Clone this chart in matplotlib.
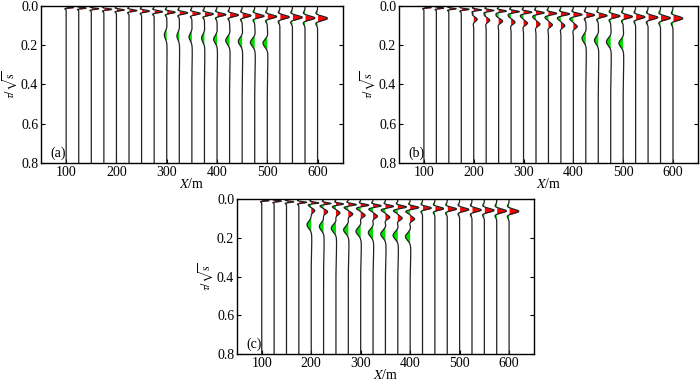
import numpy as np
import matplotlib
matplotlib.use('Agg')
import matplotlib.pyplot as plt

plt.rcParams['font.family'] = ['Liberation Serif', 'DejaVu Serif']
plt.rcParams['mathtext.fontset'] = 'stix'
plt.rcParams['font.size'] = 10

# trace offsets (m)
offsets = [100, 125, 150, 175, 200, 225, 250, 275, 300, 325, 350,
           375, 400, 425, 450, 475, 500, 525, 550, 575, 600]

# direct wave, same in all panels
direct_t = [0.008, 0.011, 0.014, 0.017, 0.020, 0.023, 0.026, 0.029, 0.032, 0.035, 0.038,
            0.041, 0.044, 0.046, 0.049, 0.051, 0.054, 0.056, 0.058, 0.061, 0.063]
direct_amp = [15, 15, 15, 16, 16, 16, 16, 17, 17, 17, 17,
              18, 18, 18, 18, 19, 19, 19, 20, 20, 20]
direct_w = [0.0025, 0.0029, 0.0033, 0.0037, 0.0041, 0.0045, 0.0049, 0.0053, 0.0057, 0.0061, 0.0065,
            0.0069, 0.0073, 0.0077, 0.0081, 0.0085, 0.0089, 0.0093, 0.0097, 0.0101, 0.0105]

# (a) deep green event
a_deep_x = [300, 325, 350, 375, 400, 425, 450, 475, 500]
a_deep_t = [0.148, 0.153, 0.158, 0.164, 0.170, 0.176, 0.181, 0.186, 0.190]
a_deep_amp = [-5, -5, -6, -6, -7, -8, -8, -9, -9]

# (b) shallow green/red event and deep green event
b_sh_x = [200, 225, 250, 275, 300, 325, 350, 375, 400]
b_green_t = [0.044, 0.046, 0.049, 0.052, 0.055, 0.059, 0.062, 0.066, 0.070]
b_red_t = [0.068, 0.073, 0.078, 0.083, 0.088, 0.093, 0.097, 0.101, 0.105]
b_green_amp = [-3, -4, -5, -5, -5, -5, -5, -5, -5]
b_red_amp = [7, 7, 8, 8, 8, 8, 8, 8, 8]
b_deep_x = [425, 450, 475, 500]
b_deep_t = [0.165, 0.175, 0.183, 0.190]
b_deep_amp = [-8, -8, -9, -9]

# (c) shallow green/red event and deep green event
c_sh_x = [200, 225, 250, 275, 300, 325, 350, 375, 400]
c_green_t = [0.036, 0.039, 0.043, 0.047, 0.051, 0.055, 0.059, 0.063, 0.067]
c_red_t = [0.060, 0.066, 0.072, 0.078, 0.084, 0.089, 0.094, 0.099, 0.103]
c_green_amp = [-4, -5, -5, -6, -6, -6, -6, -6, -6]
c_red_amp = [7, 8, 8, 9, 9, 9, 9, 9, 9]
c_deep_t = [0.133, 0.142, 0.151, 0.159, 0.167, 0.174, 0.181, 0.188, 0.194]
c_deep_amp = [-9, -9, -10, -10, -10, -10, -10, -10, -10]

t = np.linspace(0, 0.8, 3000)


def lobe(t0, amp, s):
    return amp * np.exp(-0.5 * ((t - t0) / s) ** 2)


def wavelet(t0, amp, s, pre=0.22, post=0.22, post_w=1.0):
    return (lobe(t0, amp, s) - pre * lobe(t0 - 2.2 * s, amp, 0.9 * s)
            - post * lobe(t0 + (1.3 + post_w) * s, amp, post_w * s))


def panel(ax, label, events):
    for i, x0 in enumerate(offsets):
        tr = wavelet(direct_t[i], direct_amp[i], direct_w[i])
        for ev in events:
            tr = tr + ev(x0)
        xs = x0 + tr
        ax.fill_betweenx(t, x0, xs, where=tr > 1.5, color='#ff0000', lw=0)
        ax.fill_betweenx(t, x0, xs, where=tr < -1.5, color='#00dd00', lw=0)
        ax.plot(xs, t, color='#222222', lw=0.9)
    ax.set_xlim(50, 650)
    ax.set_ylim(0.8, 0)
    ax.set_xticks([100, 200, 300, 400, 500, 600])
    ax.set_yticks([0.0, 0.2, 0.4, 0.6, 0.8])
    ax.set_yticklabels(['0.0', '0.2', '0.4', '0.6', '0.8'])
    ax.tick_params(direction='in', length=3, right=True, pad=2)
    ax.set_xlabel(r'$X$/m', labelpad=-1)
    ax.set_ylabel(r'$\tau/\sqrt{\mathrm{s}}$', fontsize=8.5)
    ax.yaxis.set_label_coords(-0.073, 0.5)
    ax.text(0.03, 0.04, label, transform=ax.transAxes)
    for sp in ax.spines.values():
        sp.set_linewidth(1.0)


def deep(xs, ts, amps, s=0.019):
    def f(x0):
        if x0 in xs:
            j = xs.index(x0)
            return wavelet(ts[j], amps[j], s, pre=0.12, post=0.12, post_w=3.0)
        return 0
    return f


def shallow(xs, tg, tr, ag, ar, s=0.0095):
    def f(x0):
        if x0 in xs:
            j = xs.index(x0)
            return lobe(tg[j], ag[j], s * 0.8) + lobe(tr[j], ar[j], s) + lobe(tr[j] + 2.5 * s, -0.15 * ar[j], s)
        return 0
    return f


fig = plt.figure(figsize=(7, 3.85), dpi=100)
ax_a = fig.add_axes([0.0586, 0.5766, 0.431, 0.408])
ax_b = fig.add_axes([0.570, 0.5766, 0.427, 0.408])
ax_c = fig.add_axes([0.3386, 0.0805, 0.424, 0.4026])

panel(ax_a, '(a)', [deep(a_deep_x, a_deep_t, a_deep_amp)])
panel(ax_b, '(b)', [shallow(b_sh_x, b_green_t, b_red_t, b_green_amp, b_red_amp),
                    deep(b_deep_x, b_deep_t, b_deep_amp)])
panel(ax_c, '(c)', [shallow(c_sh_x, c_green_t, c_red_t, c_green_amp, c_red_amp),
                    deep(c_sh_x, c_deep_t, c_deep_amp)])

fig.savefig('out.png', dpi=100)
